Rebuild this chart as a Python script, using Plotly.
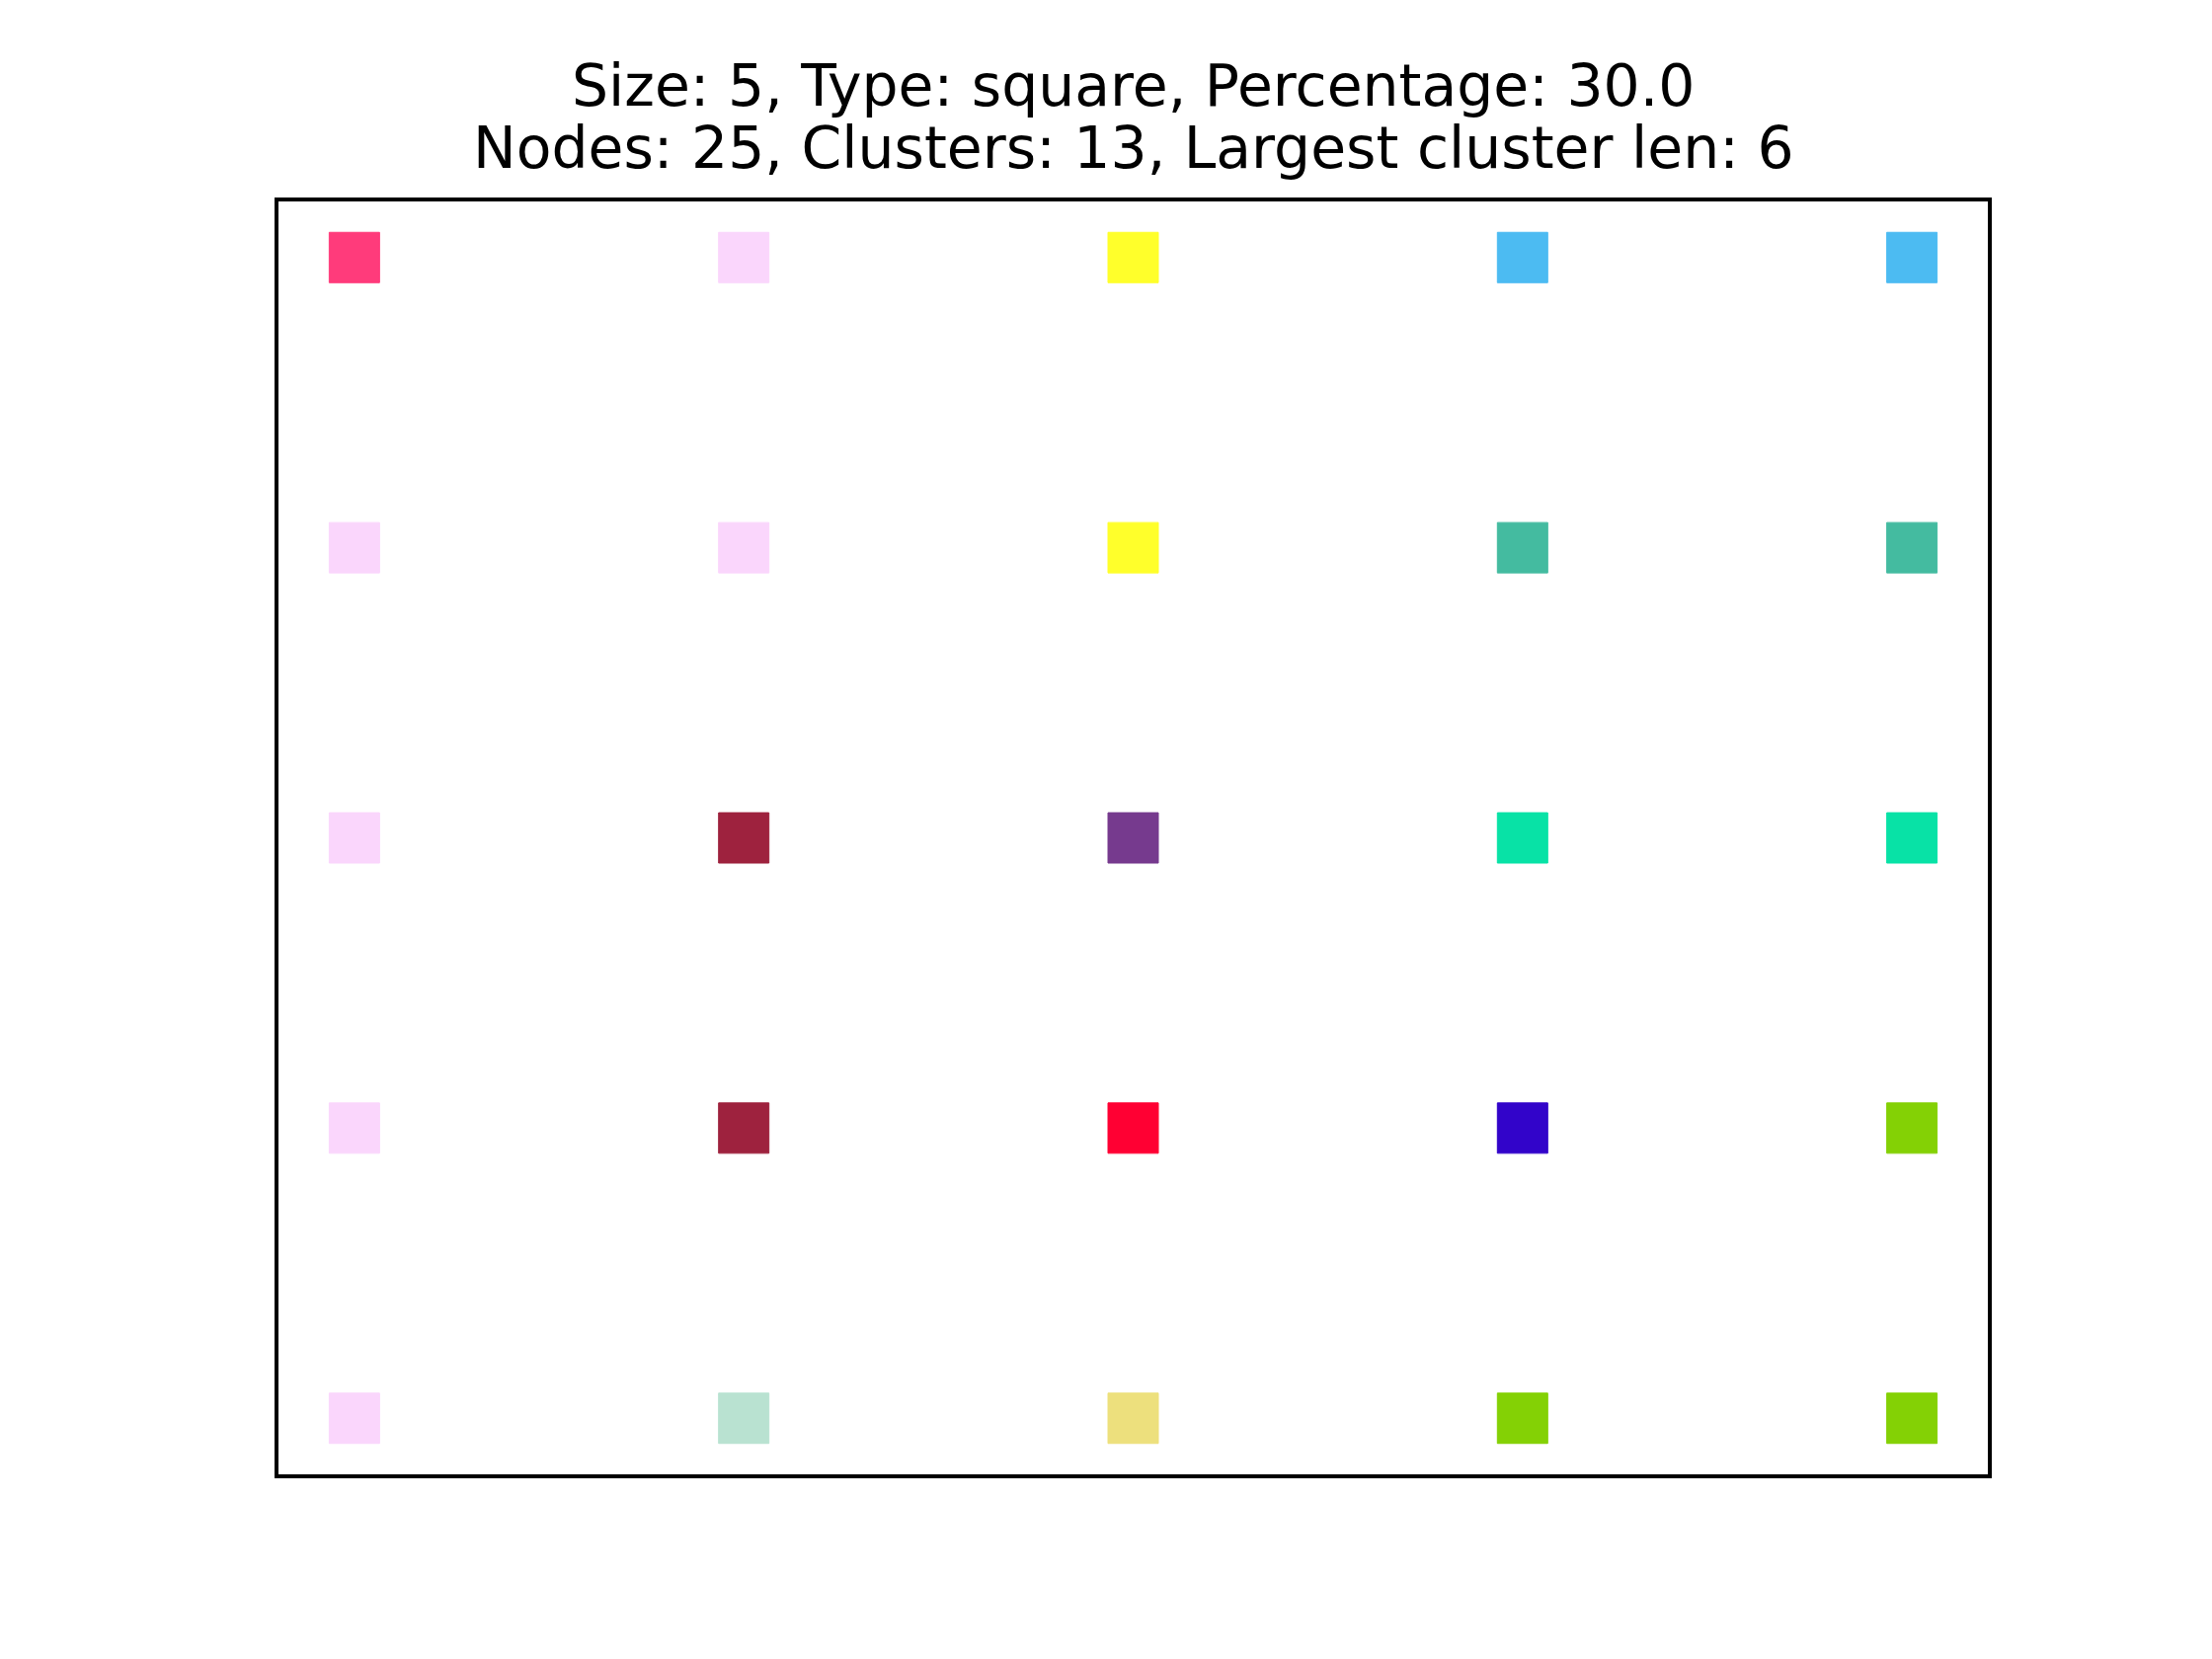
import plotly.graph_objects as go

# Grid columns / rows (data coordinates)
col_x = [0, 1, 2, 3, 4]
row_y = [4, 3, 2, 1, 0]  # top row first

# Node colours, row by row (top to bottom), column by column (left to right)
row_colors = [
    ["#FF3B7B", "#FAD6FC", "#FFFF2B", "#4CBBF2", "#4CBBF2"],
    ["#FAD6FC", "#FAD6FC", "#FFFF2B", "#44BBA0", "#44BBA0"],
    ["#FAD6FC", "#9E223E", "#763A8E", "#08E2A6", "#08E2A6"],
    ["#FAD6FC", "#9E223E", "#FF0033", "#3204CA", "#84D105"],
    ["#FAD6FC", "#B9E2D1", "#EDE07D", "#84D105", "#84D105"],
]

title_lines = [
    "Size: 5, Type: square, Percentage: 30.0",
    "Nodes: 25, Clusters: 13, Largest cluster len: 6",
]

xs, ys, cs = [], [], []
for r, yv in enumerate(row_y):
    for c, xv in enumerate(col_x):
        xs.append(xv)
        ys.append(yv)
        cs.append(row_colors[r][c])

fig = go.Figure()
fig.add_trace(go.Scatter(
    x=xs, y=ys, mode="markers",
    marker=dict(symbol="square", size=51, color=cs,
                line=dict(width=1, color=cs)),
    hoverinfo="skip", showlegend=False,
))

W, H = 2240, 1680
L, R, T, B = 280, 2015, 202, 1495

fig.update_layout(
    width=W, height=H,
    margin=dict(l=L, r=W - R, t=T, b=H - B, pad=0),
    paper_bgcolor="white", plot_bgcolor="white",
    xaxis=dict(range=[-0.2, 4.2], visible=False, showgrid=False, zeroline=False),
    yaxis=dict(range=[-0.2, 4.2], visible=False, showgrid=False, zeroline=False),
    showlegend=False,
)

fig.add_shape(type="rect", xref="paper", yref="paper", x0=0, x1=1, y0=0, y1=1,
              line=dict(color="black", width=4), fillcolor="rgba(0,0,0,0)", layer="above")

plot_h = B - T
for line, py in zip(title_lines, [87, 150]):
    fig.add_annotation(
        text=line, xref="paper", yref="paper", x=0.5, y=(B - py) / plot_h,
        xanchor="center", yanchor="middle", showarrow=False,
        font=dict(family="DejaVu Sans", size=58.4, color="black"),
    )

fig.write_html("out.html")
